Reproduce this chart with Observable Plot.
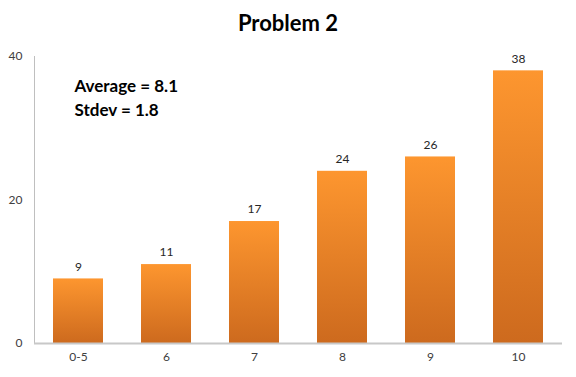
<!DOCTYPE html>
<html>
<head>
<meta charset="utf-8">
<script src="https://cdn.jsdelivr.net/npm/d3@7"></script>
<script src="https://cdn.jsdelivr.net/npm/@observablehq/plot@0.6"></script>
<style>
  html, body { margin: 0; padding: 0; background: #fff; }
  #wrap { position: relative; width: 576px; height: 377px; }
  #title { position: absolute; left: 0; top: 9px; width: 576px; text-align: center;
           font-family: Lato, "Open Sans", sans-serif; font-weight: bold; font-size: 22px; color: #000; }
</style>
</head>
<body>
<div id="wrap">
  <div id="title">Problem 2</div>
  <div id="chart"></div>
</div>
<script>
const categories = ["0-5", "6", "7", "8", "9", "10"];
const counts = [9, 11, 17, 24, 26, 38];
const yTicks = [0, 20, 40];
const annotation = "Average = 8.1\nStdev = 1.8";

const data = categories.map((c, i) => ({cat: c, n: counts[i]}));

const chart = Plot.plot({
  width: 576,
  height: 377,
  marginLeft: 34,
  marginRight: 14,
  marginTop: 56,
  marginBottom: 34,
  style: {fontFamily: "Lato, 'Open Sans', sans-serif", fontSize: "12px", color: "#404040", background: "transparent"},
  x: {domain: categories, paddingInner: 0.43, paddingOuter: 0.215, label: null, tickSize: 0, tickPadding: 9},
  y: {domain: [0, 40], ticks: yTicks, label: null, tickSize: 0, tickPadding: 12},
  marks: [
    Plot.frame({anchor: "left", stroke: "#bfbfbf", strokeWidth: 1}),
    Plot.barY(data, {x: "cat", y: "n", fill: "url(#barGrad)"}),
    Plot.ruleY([0], {stroke: "#c8c8c8", strokeWidth: 2}),
    Plot.text(data, {x: "cat", y: "n", text: d => String(d.n), dy: -12, fill: "#262626", fontSize: 12}),
    Plot.text([annotation], {frameAnchor: "top-left", dx: 40, dy: 19, textAnchor: "start", lineAnchor: "top",
      lineHeight: 1.38, fontSize: 17, fontWeight: "bold", fill: "#000"})
  ]
});

const svg = d3.select(chart);
const defs = svg.insert("defs", ":first-child");
const g = defs.append("linearGradient").attr("id", "barGrad").attr("x1", 0).attr("y1", 0).attr("x2", 0).attr("y2", 1);
g.append("stop").attr("offset", "0%").attr("stop-color", "#fd962f");
g.append("stop").attr("offset", "100%").attr("stop-color", "#cd6a1e");

document.getElementById("chart").appendChild(chart);
</script>
</body>
</html>
